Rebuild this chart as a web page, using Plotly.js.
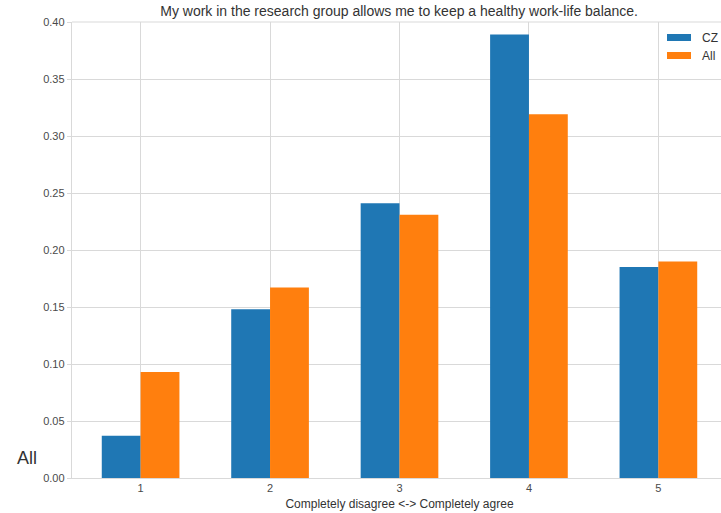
<!DOCTYPE html>
<html>
<head>
<meta charset="utf-8">
<script src="https://cdn.plot.ly/plotly-3.0.1.min.js"></script>
<style>
html,body{margin:0;padding:0;overflow:hidden;background:#fff;}
#chart{width:727px;height:513px;}
</style>
</head>
<body>
<div id="chart"></div>
<script>
const categories = [1, 2, 3, 4, 5];
const czValues = [0.037, 0.148, 0.241, 0.389, 0.185];
const allValues = [0.093, 0.167, 0.231, 0.319, 0.190];
const seriesNames = ["CZ", "All"];
const seriesColors = ["#1f77b4", "#ff7f0e"];
const tickLabels = ["1", "2", "3", "4", "5"];
const yTicks = [0, 0.05, 0.10, 0.15, 0.20, 0.25, 0.30, 0.35, 0.40];

const FONT = "Liberation Sans, Arial, sans-serif";

const traces = [
  {type: "bar", x: categories, y: czValues, name: seriesNames[0],
   marker: {color: seriesColors[0]}},
  {type: "bar", x: categories, y: allValues, name: seriesNames[1],
   marker: {color: seriesColors[1]}}
];

// custom legend (rectangular patches like the reference)
const W = 655, H = 456; // plot area size in px
const px = v => (v - 72) / W, py = v => (478 - v) / H;
const legendShapes = [], legendAnn = [];
seriesNames.forEach((n, i) => {
  const top = 34 + i * 18;
  legendShapes.push({type: "rect", xref: "paper", yref: "paper",
    x0: px(667), x1: px(691), y0: py(top + 7), y1: py(top),
    fillcolor: seriesColors[i], line: {width: 0}});
  legendAnn.push({text: n, xref: "paper", yref: "paper", x: px(700), y: py(top + 3.7),
    xanchor: "left", yanchor: "middle", showarrow: false,
    font: {family: FONT, size: 12, color: "#333"}});
});

const layout = {
  width: 727, height: 513,
  margin: {l: 72, r: 0, t: 22, b: 35},
  paper_bgcolor: "#fff", plot_bgcolor: "#fff",
  barmode: "group", bargap: 0.4, bargroupgap: 0,
  showlegend: false,
  font: {family: FONT, size: 12, color: "#444"},
  title: {text: "My work in the research group allows me to keep a healthy work-life balance.",
          font: {family: FONT, size: 14, color: "#333"},
          x: 0.549, xanchor: "center", y: 0.979, yanchor: "middle"},
  xaxis: {
    range: [0.47, 5.53], tickmode: "array", tickvals: categories, ticktext: tickLabels,
    showgrid: true, gridcolor: "#d9d9d9", gridwidth: 1,
    showline: true, linecolor: "#d9d9d9", linewidth: 1.2,
    ticks: "", ticklen: 0,
    tickfont: {size: 11, color: "#4a4a4a"}, zeroline: false,
    title: {text: "Completely disagree <-> Completely agree", font: {size: 12, color: "#333"}, standoff: 6}
  },
  yaxis: {
    range: [0, 0.40], tickvals: yTicks, tickformat: ".2f",
    showgrid: true, gridcolor: "#d9d9d9", gridwidth: 1,
    showline: true, linecolor: "#d9d9d9", linewidth: 1.2, mirror: false,
    ticks: "outside", ticklen: 4, tickcolor: "#d9d9d9",
    tickfont: {size: 11, color: "#4a4a4a"}, zeroline: false
  },
  shapes: [
    {type: "line", xref: "paper", yref: "paper", x0: 0, x1: 1, y0: 1, y1: 1,
     line: {color: "#d9d9d9", width: 1.2}}
  ].concat(legendShapes),
  annotations: [
    {text: "All", xref: "paper", yref: "paper", x: -0.068, y: 0.043,
     xanchor: "center", yanchor: "middle", showarrow: false,
     font: {family: FONT, size: 18, color: "#333"}}
  ].concat(legendAnn)
};

Plotly.newPlot("chart", traces, layout, {staticPlot: true, displayModeBar: false});
</script>
</body>
</html>
